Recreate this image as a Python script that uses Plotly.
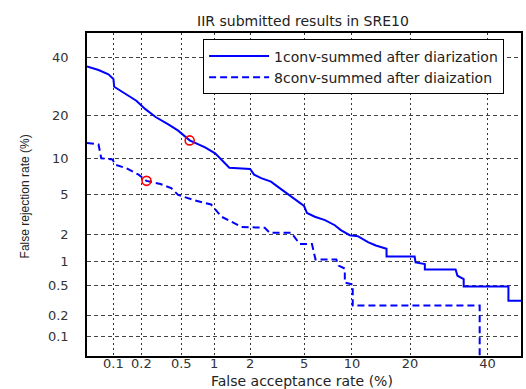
import plotly.graph_objects as go
from statistics import NormalDist

# ---- data (percent) ----
solid_far = [0.05, 0.068, 0.088, 0.1, 0.102, 0.135, 0.177, 0.22, 0.28, 0.375, 0.467, 0.6, 0.83, 1.02, 1.15,
             1.35, 2.0, 2.15, 2.44, 2.9, 3.27, 3.74, 4.33, 5.0, 5.23, 5.9, 6.86, 7.9, 8.6, 9.7, 10.8, 12.3,
             13.55, 15.4, 15.4, 21.0, 21.2, 23.3, 23.3, 31.0, 31.5, 33.2, 33.2, 46.2, 46.2, 50.0]
solid_frr = [36.7, 35.3, 33.7, 32.0, 29.2, 26.8, 24.5, 21.9, 19.6, 17.6, 16.0, 13.7, 12.2, 11.0, 9.86,
             8.5, 8.3, 7.45, 6.97, 6.5, 5.85, 5.17, 4.45, 3.9, 3.34, 3.06, 2.83, 2.51, 2.23, 1.97, 1.92, 1.66,
             1.52, 1.4, 1.14, 1.14, 0.97, 0.93, 0.8, 0.8, 0.67, 0.61, 0.49, 0.49, 0.32, 0.32]

dash_far = [0.05, 0.068, 0.073, 0.098, 0.104, 0.139, 0.187, 0.226, 0.313, 0.4, 0.467, 0.65, 0.94, 1.05,
            1.16, 1.41, 1.7, 2.6, 2.84, 4.08, 4.33, 4.67, 5.65, 5.83, 5.96, 8.07, 8.33, 9.08, 9.08, 10.1,
            10.1, 37.7, 37.7]
dash_frr = [13.15, 12.8, 10.1, 9.86, 9.0, 8.4, 7.45, 6.6, 6.2, 5.7, 4.95, 4.45, 4.03, 3.48, 3.06, 2.72,
            2.41, 2.36, 2.09, 2.09, 1.87, 1.58, 1.58, 1.27, 1.05, 1.05, 0.89, 0.82, 0.55, 0.52, 0.275,
            0.275, 0.001]

op_far = [0.6, 0.226]
op_frr = [13.7, 6.6]

tick_vals = [0.1, 0.2, 0.5, 1, 2, 5, 10, 20, 40]
tick_text = ["0.1", "0.2", "0.5", "1", "2", "5", "10", "20", "40"]
axis_lim = [0.05, 50]

series_names = ["1conv-summed after diarization", "8conv-summed after diaization"]

nd = NormalDist()


def probit(vals):
    return [nd.inv_cdf(v / 100.0) for v in vals]


fig = go.Figure()
fig.add_trace(go.Scatter(x=probit(solid_far), y=probit(solid_frr), mode="lines",
                         name=series_names[0], line=dict(color="#0000ff", width=2)))
fig.add_trace(go.Scatter(x=probit(dash_far), y=probit(dash_frr), mode="lines",
                         name=series_names[1], line=dict(color="#0000ff", width=2, dash="7px,4px")))
fig.add_trace(go.Scatter(x=probit(op_far), y=probit(op_frr), mode="markers", showlegend=False,
                         marker=dict(symbol="circle-open", size=9, color="#ff0000",
                                     line=dict(width=1.6, color="#ff0000"))))

font_main = "DejaVu Sans"
fig.update_layout(
    width=526, height=389,
    margin=dict(l=87, r=3, t=33, b=33),
    paper_bgcolor="white", plot_bgcolor="white",
    title=dict(text="IIR submitted results in SRE10", x=303 / 526, xanchor="center",
               y=1 - 21 / 389, yanchor="middle", yref="container",
               font=dict(family=font_main, size=14, color="#222")),
    legend=dict(x=0.2675, y=0.98, xanchor="left", yanchor="top",
                bordercolor="#000", borderwidth=1, bgcolor="white",
                font=dict(family=font_main, size=14, color="#222"),
                tracegroupgap=0, itemwidth=60),
    showlegend=True,
)
fig.update_xaxes(range=probit(axis_lim), tickvals=probit(tick_vals), ticktext=tick_text,
                 showgrid=True, gridcolor="#333", griddash="2px,3px", gridwidth=1,
                 zeroline=False, showline=True, linecolor="#000", linewidth=1.5, mirror=True,
                 ticks="", ticklabelstandoff=-5,
                 tickfont=dict(family=font_main, size=13, color="#333"))
fig.update_yaxes(range=probit(axis_lim), tickvals=probit(tick_vals), ticktext=tick_text,
                 showgrid=True, gridcolor="#444", griddash="4px,3px", gridwidth=1,
                 zeroline=False, showline=True, linecolor="#000", linewidth=1.5, mirror=True,
                 ticks="", ticklabelstandoff=14,
                 tickfont=dict(family=font_main, size=13, color="#333"))

fig.add_annotation(text="False acceptance rate (%)", xref="paper", yref="paper",
                   x=(303 - 87) / 436, y=-(381 - 356) / 323, xanchor="center", yanchor="middle",
                   showarrow=False, font=dict(family=font_main, size=14, color="#222"))
fig.add_annotation(text="False rejection rate (%)", xref="paper", yref="paper",
                   x=(25 - 87) / 436, y=0.495, xanchor="center", yanchor="middle", textangle=-90,
                   showarrow=False, font=dict(family="Liberation Sans", size=12, color="#222"))

fig.write_html("out.html")
